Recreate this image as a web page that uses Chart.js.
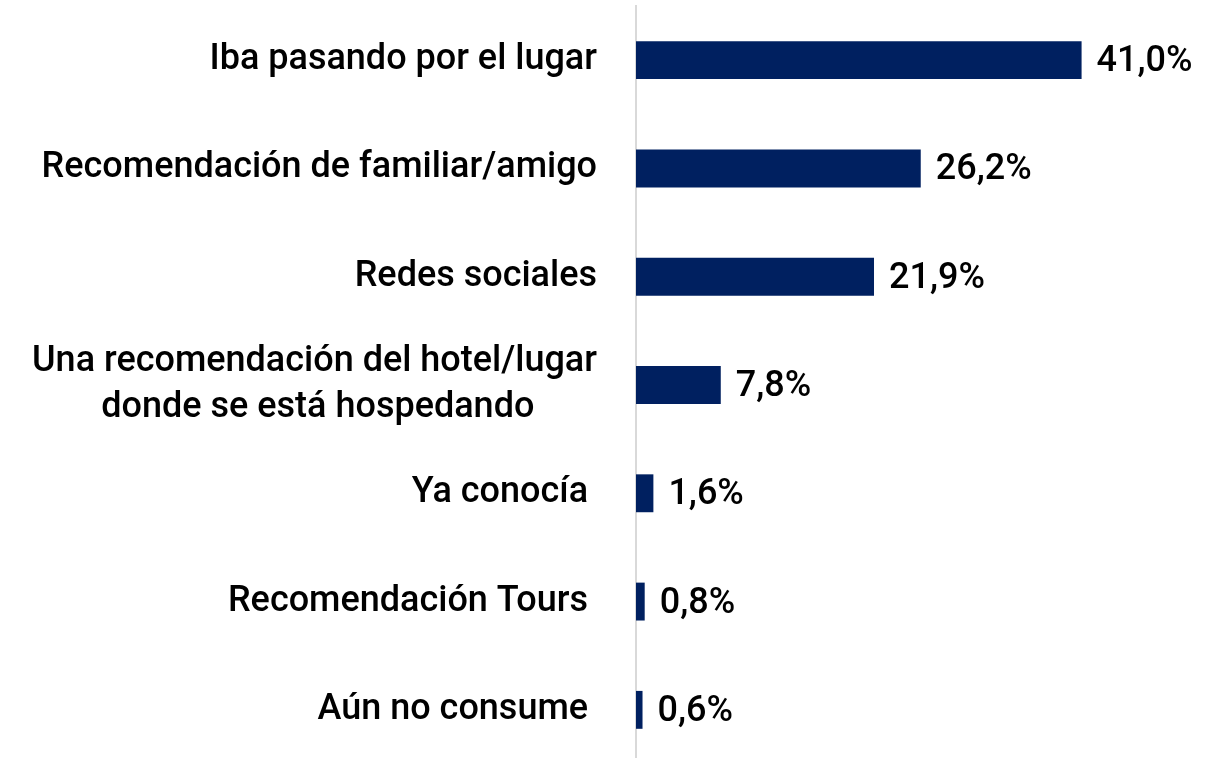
<!DOCTYPE html>
<html>
<head>
<meta charset="utf-8">
<script src="https://cdn.jsdelivr.net/npm/chart.js@4"></script>
<style>
  html, body { margin: 0; padding: 0; background: #fff; overflow: hidden; }
  #wrap { width: 1217px; height: 764px; }
</style>
</head>
<body>
<div id="wrap"><canvas id="canalChart"></canvas></div>
<script>
var categories = [
    "Iba pasando por el lugar",
    "Recomendación de familiar/amigo",
    "Redes sociales",
    ["Una recomendación del hotel/lugar", "donde se está hospedando"],
    "Ya conocía ",
    "Recomendación Tours ",
    "Aún no consume "
];
var values = [41.0, 26.2, 21.9, 7.8, 1.6, 0.8, 0.6];

var FONT = 'Roboto';
var SIZE = 36;
var labelFont = { family: FONT, size: SIZE, weight: '500', lineHeight: 1.28 };

// centre the lines of a two-line label by padding the short line with spaces
var measure = document.createElement('canvas').getContext('2d');
measure.font = '500 ' + SIZE + 'px ' + FONT;
function centreLines(lines) {
    var widest = Math.max.apply(null, lines.map(function (l) { return measure.measureText(l).width; }));
    var sp = measure.measureText(' ').width;
    return lines.map(function (l) {
        var n = Math.round((widest - measure.measureText(l).width) / 2 / sp);
        return l + ' '.repeat(n);
    });
}

var valueLabels = {
    id: 'valueLabels',
    afterDatasetsDraw: function (chart) {
        var ctx = chart.ctx;
        var meta = chart.getDatasetMeta(0);
        ctx.save();
        ctx.font = '500 ' + SIZE + 'px ' + FONT;
        ctx.fillStyle = '#000';
        ctx.textAlign = 'left';
        ctx.textBaseline = 'middle';
        meta.data.forEach(function (bar, i) {
            var txt = values[i].toFixed(1).replace('.', ',') + '%';
            ctx.fillText(txt, bar.x + 15, bar.y + 2);
        });
        ctx.restore();
    }
};

var ctx = document.getElementById('canalChart');
var canalChart = new Chart(ctx, {
    type: 'bar',
    plugins: [valueLabels],
    data: {
        labels: categories,
        datasets: [{
            data: values,
            backgroundColor: '#002060',
            borderWidth: 0,
            barPercentage: 0.35,
            categoryPercentage: 1.0
        }]
    },
    options: {
        indexAxis: 'y',
        responsive: true,
        maintainAspectRatio: false,
        animation: false,
        layout: { padding: { top: 6, right: 5, bottom: 0, left: 0 } },
        plugins: {
            legend: { display: false },
            tooltip: { enabled: false }
        },
        scales: {
            x: {
                display: false,
                min: 0,
                max: 53
            },
            y: {
                afterFit: function (scale) {
                    scale.width = 636;
                    scale.paddingTop = 0;
                    scale.paddingBottom = 0;
                },
                grid: { display: false, drawTicks: false },
                border: { display: true, color: '#d9d9d9', width: 2 },
                ticks: {
                    color: '#000',
                    font: labelFont,
                    padding: 39,
                    autoSkip: false,
                    callback: function (v, i) {
                        var l = categories[i];
                        return Array.isArray(l) ? centreLines(l) : l;
                    }
                }
            }
        }
    }
});
</script>
</body>
</html>
